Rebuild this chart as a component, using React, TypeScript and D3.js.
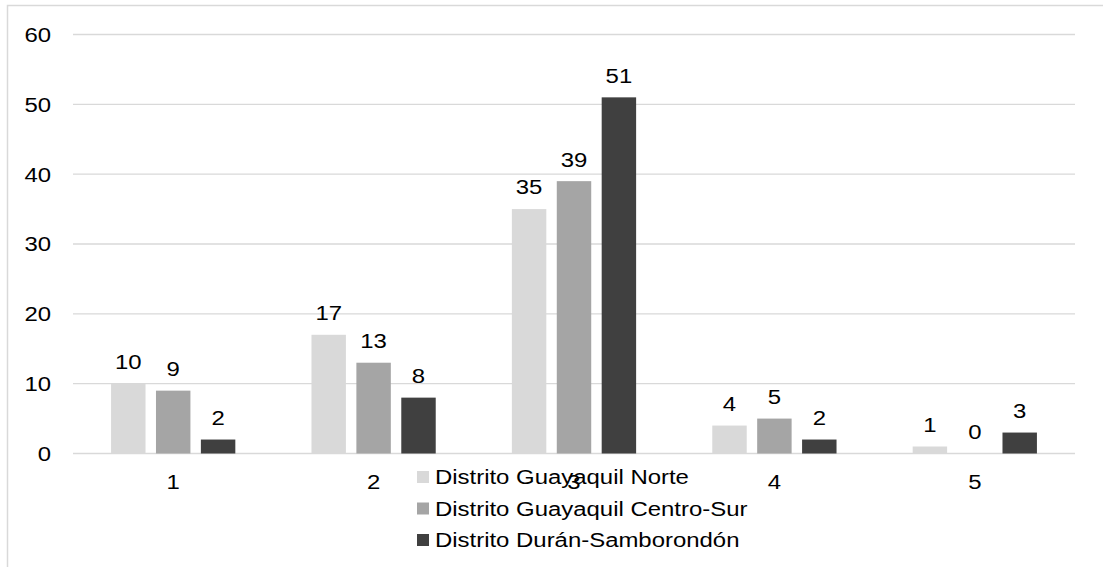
import * as d3 from "d3";

const categories = ["1", "2", "3", "4", "5"];
const seriesNames = [
  "Distrito Guayaquil Norte",
  "Distrito Guayaquil Centro-Sur",
  "Distrito Durán-Samborondón",
];
const norte = [10, 17, 35, 4, 1];
const centroSur = [9, 13, 39, 5, 0];
const duran = [2, 8, 51, 2, 3];
const yTicks = [0, 10, 20, 30, 40, 50, 60];
const colors = ["#d9d9d9", "#a5a5a5", "#404040"];

const W = 1103;
const H = 567;
const font = "'Liberation Sans', Arial, sans-serif";

// the source picture is stretched horizontally, so text is widened to match
function Txt({ x, y, anchor = "start", children }: { x: number; y: number; anchor?: string; children: any }) {
  return (
    <text
      transform={`translate(${x},${y}) scale(1.14,1)`}
      dy="0.35em"
      textAnchor={anchor}
      fontFamily={font}
      fontSize={21}
      fill="#000"
    >
      {children}
    </text>
  );
}

export default function App() {
  const series = [norte, centroSur, duran];
  const x0 = d3
    .scaleBand<string>()
    .domain(categories)
    .range([73, 1075])
    .paddingInner(0.38)
    .paddingOuter(0.19);
  const x1 = d3
    .scaleBand<number>()
    .domain([0, 1, 2])
    .range([0, x0.bandwidth()])
    .paddingInner(0.233);
  const y = d3.scaleLinear().domain([0, 60]).range([453.5, 34.5]);

  return (
    <div style={{ position: "absolute", left: 0, top: 0 }}>
      <svg width={W} height={H} style={{ display: "block", background: "#fff" }}>
        <rect x={7.5} y={5.5} width={W + 20} height={H + 20} fill="#fff" stroke="#d9d9d9" strokeWidth={1.5} />
        {yTicks.map((t) => (
          <g key={t}>
            <line x1={73} x2={1075} y1={y(t)} y2={y(t)} stroke="#d9d9d9" strokeWidth={1.3} />
            <Txt x={51} y={y(t)} anchor="end">{t}</Txt>
          </g>
        ))}
        {categories.map((c, i) => (
          <g key={c} transform={`translate(${x0(c)},0)`}>
            {series.map((s, j) => (
              <rect
                key={j}
                x={x1(j)}
                y={y(s[i])}
                width={x1.bandwidth()}
                height={y(0) - y(s[i])}
                fill={colors[j]}
              />
            ))}
            {series.map((s, j) => (
              <Txt key={"l" + j} x={(x1(j) ?? 0) + x1.bandwidth() / 2} y={y(s[i]) - 22} anchor="middle">
                {s[i]}
              </Txt>
            ))}
          </g>
        ))}
        {seriesNames.map((n, j) => (
          <g key={n}>
            <rect x={417} y={471 + j * 31.5} width={12} height={12} fill={colors[j]} />
            <Txt x={435} y={477 + j * 31.5}>{n}</Txt>
          </g>
        ))}
        {categories.map((c) => (
          <Txt key={"x" + c} x={(x0(c) ?? 0) + x0.bandwidth() / 2} y={482} anchor="middle">
            {c}
          </Txt>
        ))}
      </svg>
    </div>
  );
}
